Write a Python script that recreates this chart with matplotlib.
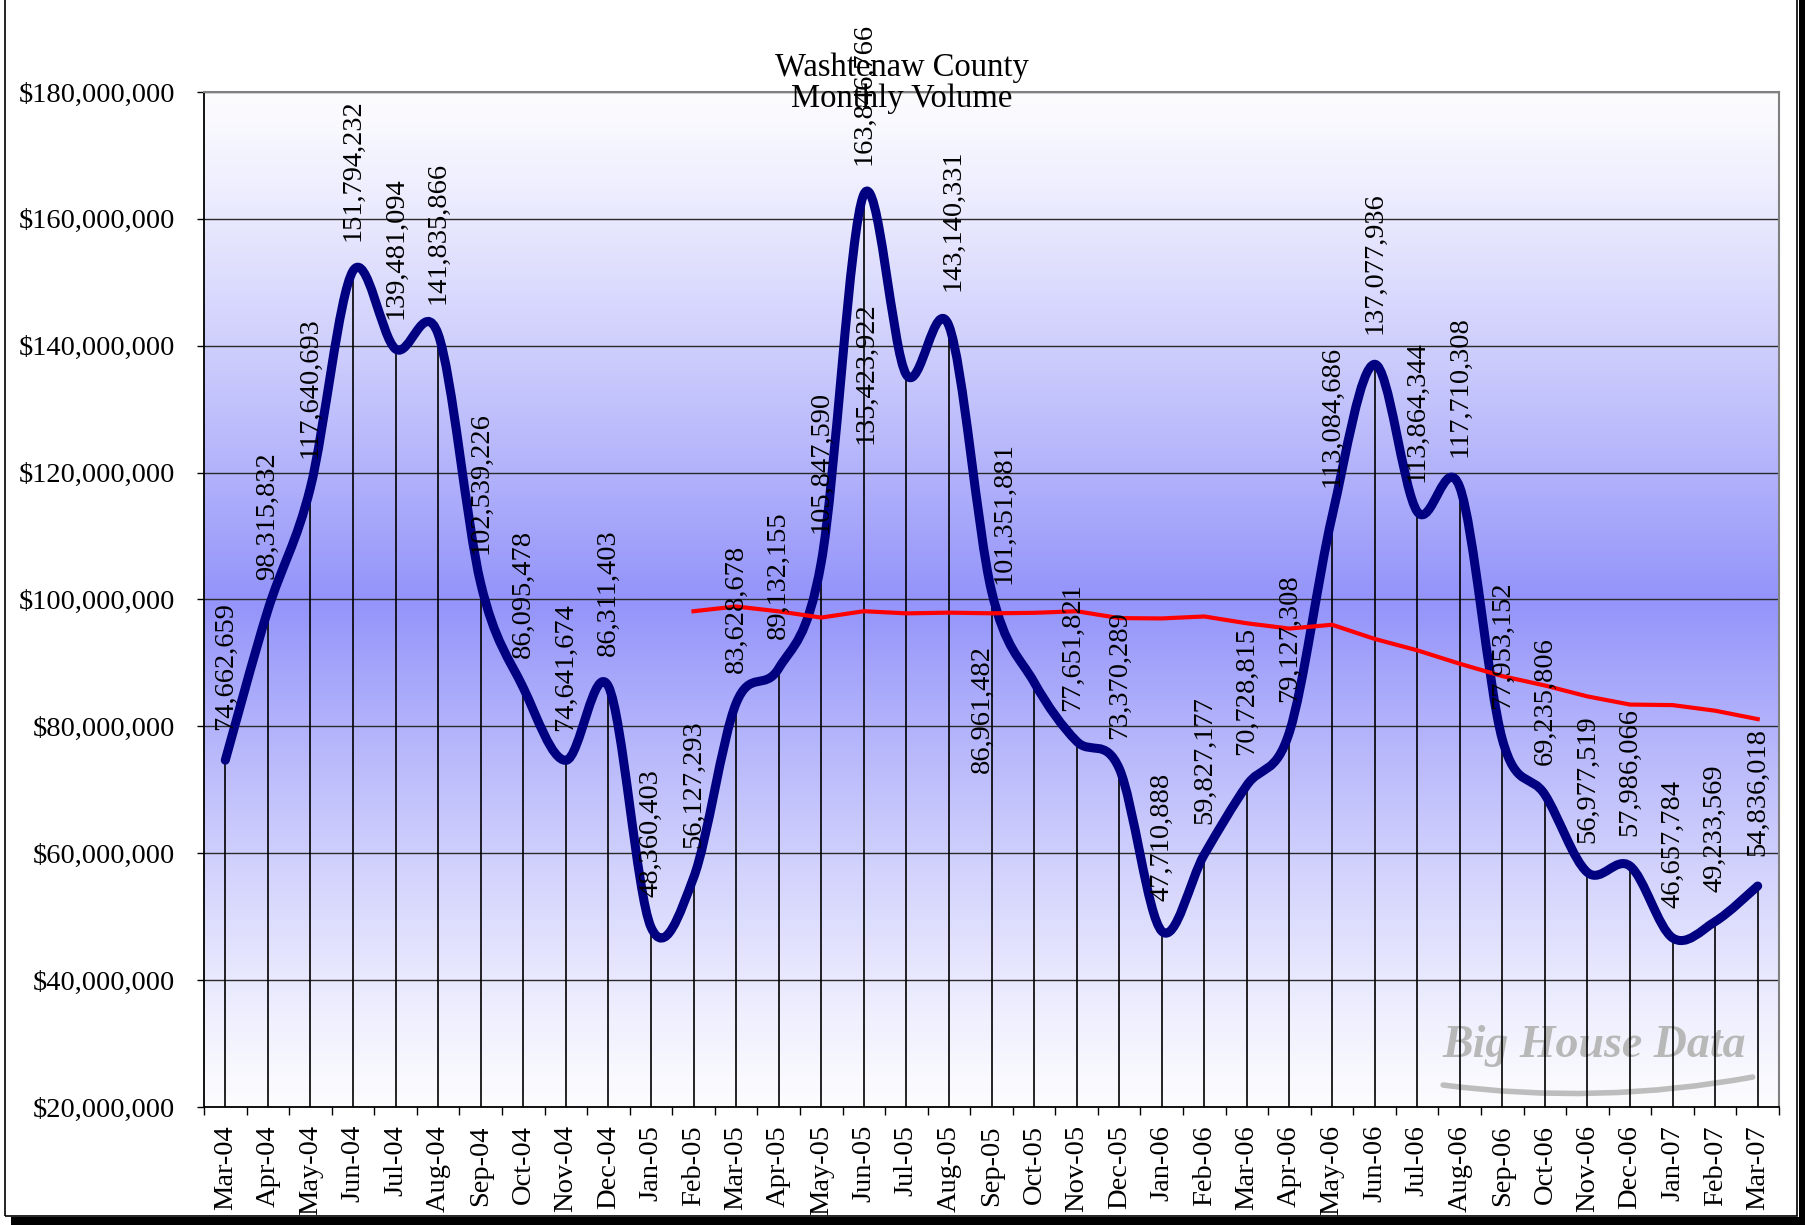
import numpy as np
import matplotlib
matplotlib.use("Agg")
import matplotlib.pyplot as plt
from matplotlib.path import Path
from matplotlib.patches import PathPatch, Rectangle, FancyArrowPatch
from matplotlib.colors import LinearSegmentedColormap
from matplotlib.ticker import FuncFormatter, FixedLocator

months = ["Mar-04", "Apr-04", "May-04", "Jun-04", "Jul-04", "Aug-04", "Sep-04",
          "Oct-04", "Nov-04", "Dec-04", "Jan-05", "Feb-05", "Mar-05", "Apr-05",
          "May-05", "Jun-05", "Jul-05", "Aug-05", "Sep-05", "Oct-05", "Nov-05",
          "Dec-05", "Jan-06", "Feb-06", "Mar-06", "Apr-06", "May-06", "Jun-06",
          "Jul-06", "Aug-06", "Sep-06", "Oct-06", "Nov-06", "Dec-06", "Jan-07",
          "Feb-07", "Mar-07"]

volume = [74662659, 98315832, 117640693, 151794232, 139481094, 141835866,
          102539226, 86095478, 74641674, 86311403, 48360403, 56127293,
          83628678, 89132155, 105847590, 163846766, 135423922, 143140331,
          101351881, 86961482, 77651821, 73370289, 47710888, 59827177,
          70728815, 79127308, 113084686, 137077936, 113864344, 117710308,
          77953152, 69235806, 56977519, 57986066, 46657784, 49233569,
          54836018]

# 12 month average, Feb-05 through Mar-07
avg_start = 11
avg_12mo = [98150000, 98898000, 98132000, 97150000, 98154000, 97816000,
            97925000, 97826000, 97898000, 98149000, 97070000, 97016000,
            97324000, 96249000, 95416000, 96019000, 93788000, 91991000,
            89872000, 87922000, 86445000, 84722000, 83440000, 83353000,
            82470000, 81145000]

yticks = [20e6, 40e6, 60e6, 80e6, 100e6, 120e6, 140e6, 160e6, 180e6]

# hand placed labels: (dx pt, dy pt, vertical alignment)
label_pos = {16: (-29, 1, "center"), 17: (3, 25, "bottom"),
             18: (9, 5, "bottom"), 19: (-37, -19, "center"),
             20: (-3, 22, "bottom")}

FONT = "Liberation Serif"
plt.rcParams["font.family"] = FONT

fig = plt.figure(figsize=(18.05, 12.25), dpi=100)
W, H = 1805, 1225
ax = fig.add_axes([204 / W, 1 - 1107 / H, (1779 - 204) / W, (1107 - 92) / H])

n = len(volume)
x = np.arange(n)
ax.set_xlim(-0.5, n - 0.5)
ax.set_ylim(20e6, 180e6)

# background: white at top and bottom, blue through the middle
t = np.linspace(0, 1, 400)
grad = ((1 - np.abs(2 * t - 1)) ** 1.2)[:, None]
cmap = LinearSegmentedColormap.from_list("bg", ["#fcfcff", "#9494fa"])
ax.imshow(grad, extent=[-0.5, n - 0.5, 20e6, 180e6], origin="lower",
          aspect="auto", cmap=cmap, zorder=0, interpolation="bilinear")

ax.set_axisbelow(True)
ax.yaxis.grid(True, color="#2a2a2a", lw=1.0)

# watermark
ax.text(0.883, 0.06, "Big House Data", transform=ax.transAxes, ha="center",
        va="center", fontsize=33, style="italic", fontweight="bold",
        color="#b8b8b8", zorder=0.8)
wave = FancyArrowPatch((0.785, 0.022), (0.985, 0.03), transform=ax.transAxes,
                       connectionstyle="arc3,rad=0.08", arrowstyle="-",
                       color="#bdbdbd", lw=4, zorder=0.8)
ax.add_patch(wave)

# drop lines
ax.vlines(x, 20e6, volume, color="black", lw=1.2, zorder=1.5)

# smoothed volume line (Catmull-Rom style Bezier segments)
P = np.column_stack([x, np.array(volume, dtype=float)])
Pp = np.vstack([P[0], P, P[-1]])
verts = [tuple(P[0])]
codes = [Path.MOVETO]
for i in range(n - 1):
    p0, p1, p2, p3 = Pp[i], Pp[i + 1], Pp[i + 2], Pp[i + 3]
    c1 = p1 + (p2 - p0) / 6
    c2 = p2 - (p3 - p1) / 6
    verts += [tuple(c1), tuple(c2), tuple(p2)]
    codes += [Path.CURVE4] * 3
ax.add_patch(PathPatch(Path(verts, codes), facecolor="none", edgecolor="#000080",
                       lw=6.5, capstyle="round", joinstyle="round", zorder=3))

ax.plot(x[avg_start:], avg_12mo, color="#ff0000", lw=3, zorder=4)

for i, v in enumerate(volume):
    dx, dy, va = label_pos.get(i, (0, 21.5, "bottom"))
    ax.annotate(f"{v:,}", (i, v), xytext=(dx, dy), textcoords="offset points",
                rotation=90, ha="center", va=va, fontsize=20.5, zorder=6,
                annotation_clip=False)

# axes styling
ax.yaxis.set_major_locator(FixedLocator(yticks))
ax.yaxis.set_major_formatter(FuncFormatter(lambda v, p: f"${v:,.0f}"))
ax.tick_params(axis="y", length=5, width=1, pad=16, labelsize=20.5,
               direction="out")
ax.set_xticks(x)
ax.set_xticklabels(months, rotation=90)
ax.tick_params(axis="x", which="major", length=0, pad=13, labelsize=20.5)
ax.xaxis.set_minor_locator(FixedLocator(np.arange(n + 1) - 0.5))
ax.tick_params(axis="x", which="minor", length=6, width=1, direction="out")

for side in ["left", "bottom"]:
    ax.spines[side].set_color("black")
    ax.spines[side].set_linewidth(1.3)
for side in ["top", "right"]:
    ax.spines[side].set_color("#808080")
    ax.spines[side].set_linewidth(1.5)

fig.text(0.4995, 1 - 83 / H, "Washtenaw County\nMonthly Volume", ha="center",
         va="center", fontsize=23.5, linespacing=1.0, zorder=10)

# chart border with shadow
fig.add_artist(Rectangle((5 / W, 1 - 1216 / H), (1797 - 5) / W, 1216 / H + 0.01,
                         transform=fig.transFigure, fill=False, ec="black",
                         lw=1.2))
fig.add_artist(Rectangle((11 / W, 0), 1, 1 - 1217 / H, transform=fig.transFigure,
                         color="black", lw=0))
fig.add_artist(Rectangle((1799 / W, 0), 1, 1, transform=fig.transFigure,
                         color="black", lw=0))

fig.savefig("out.png", dpi=100, facecolor="white")
